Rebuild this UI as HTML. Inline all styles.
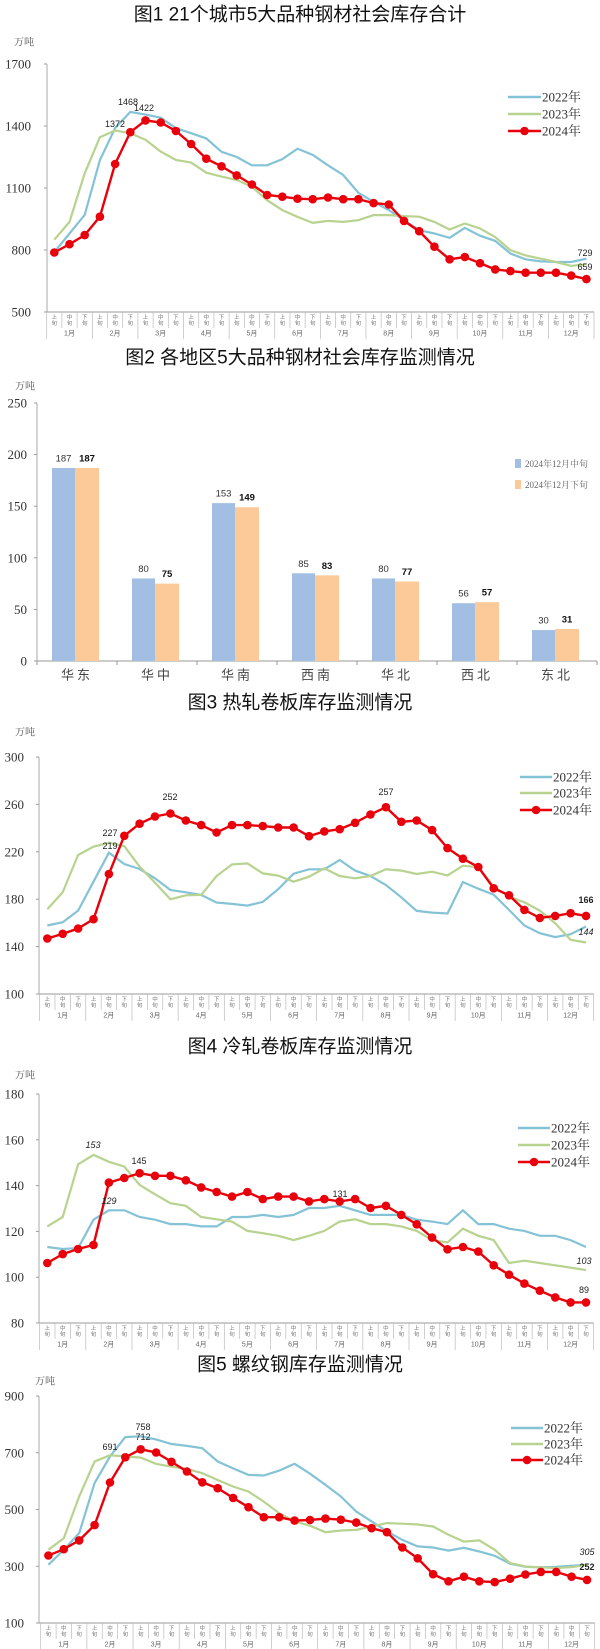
<!DOCTYPE html>
<html><head><meta charset="utf-8"><style>
html,body{margin:0;padding:0;background:#fff;width:600px;height:1649px;overflow:hidden}
svg{display:block}
</style></head><body>
<svg id="s" xmlns="http://www.w3.org/2000/svg" width="600" height="1649" viewBox="0 0 600 1649"></svg>
<script>
const S=document.getElementById('s');let h='';
const CJ='"Liberation Sans","Noto Sans CJK SC",sans-serif';
const SR='"Liberation Serif","Noto Serif CJK SC",serif';
function T(x,y,t,o){o=o||{};h+=`<text x="${x}" y="${y}" font-family='${o.f||CJ}' font-size="${o.s||10}" fill="${o.c||'#222'}" text-anchor="${o.a||'start'}" font-weight="${o.w||'normal'}" font-style="${o.i?'italic':'normal'}" dominant-baseline="central"${o.ls?` letter-spacing="${o.ls}"`:''}>${t}</text>`;}
function L(x1,y1,x2,y2,c,w){h+=`<line x1="${x1}" y1="${y1}" x2="${x2}" y2="${y2}" stroke="${c||'#999'}" stroke-width="${w||1}"/>`;}
const C22='#84c3d6',C23='#b8d28f',C24='#e8000b';
function line(c){
  const n=36,step=(c.x1-c.x0)/35,left=c.x0-step/2;
  T(300,c.ty,c.title,{s:19,a:'middle',c:'#111'});
  T(c.ux,c.uy,'万吨',{s:10,c:'#555',f:SR});
  const Y=v=>c.yt+(c.vmax-v)*(c.yb-c.yt)/(c.vmax-c.vmin);
  c.ticks.forEach(v=>{T(c.lx,Y(v),v,{s:13,a:'end',f:SR,c:'#333'});L(c.ax-3,Y(v),c.ax,Y(v),'#999');});
  L(c.ax,c.yt,c.ax,c.yb,'#aaa');
  const right=left+n*step;L(c.ax,c.yb,right,c.yb,'#999');
  const xn=['上','中','下'];
  for(let i=0;i<=n;i++){const x=left+i*step;L(x,c.yb,x,c.yb+(i%3==0?27:16),'#bbb',0.7);}
  for(let i=0;i<n;i++){const x=c.x0+i*step;T(x,c.yb+6,xn[i%3],{s:5.5,a:'middle',c:'#777'});T(x,c.yb+12,'旬',{s:5.5,a:'middle',c:'#777'});}
  for(let m=0;m<12;m++){T(left+(m*3+1.5)*step,c.yb+22,(m+1)+'月',{s:7,a:'middle',c:'#666'});}
  const P=d=>d.map((v,i)=>`${(c.x0+i*step).toFixed(1)},${Y(v).toFixed(1)}`).join(' ');
  h+=`<polyline points="${P(c.d22)}" fill="none" stroke="${C22}" stroke-width="2.2"/>`;
  h+=`<polyline points="${P(c.d23)}" fill="none" stroke="${C23}" stroke-width="2.2"/>`;
  h+=`<polyline points="${P(c.d24)}" fill="none" stroke="${C24}" stroke-width="2.4"/>`;
  c.d24.forEach((v,i)=>{h+=`<circle cx="${(c.x0+i*step).toFixed(1)}" cy="${Y(v).toFixed(1)}" r="4.3" fill="${C24}"/>`;});
  const lg=c.lg;[[C22,'2022年'],[C23,'2023年'],[C24,'2024年']].forEach((e,k)=>{
    L(lg.x0,lg.y[k],lg.x1,lg.y[k],e[0],k==2?2.4:2.6);
    if(k==2)h+=`<circle cx="${(lg.x0+lg.x1)/2}" cy="${lg.y[k]}" r="4.3" fill="${C24}"/>`;
    T(lg.x1+1,lg.y[k],e[1],{s:13,f:SR,c:'#333'});});
  c.labels.forEach(l=>T(l[0],l[1],l[2],{s:9,a:'middle',c:'#222',i:l[3]=='i',w:l[3]=='b'?'bold':'normal'}));
}
line({title:'图1  21个城市5大品种钢材社会库存合计',ty:15,ux:14,uy:43,lx:31,ax:47,yt:64,yb:312,vmax:1700,vmin:500,ticks:[1700,1400,1100,800,500],x0:54.3,x1:586.4,
d24:[788,828,872,961,1216,1370,1427,1417,1376,1313,1242,1205,1161,1117,1066,1058,1048,1046,1054,1046,1046,1027,1020,941,891,816,755,766,736,706,698,690,690,690,676,659],
d22:[790,880,970,1235,1390,1468,1455,1440,1390,1365,1340,1275,1250,1210,1210,1240,1290,1260,1210,1163,1077,1033,993,944,896,880,859,907,869,844,783,755,745,742,742,758],
d23:[850,936,1171,1346,1378,1365,1333,1276,1236,1223,1174,1155,1139,1106,1041,993,960,931,941,936,944,969,969,964,961,936,899,928,904,863,799,774,758,742,723,731],
lg:{x0:508,x1:541,y:[97,114,131]},
labels:[[128,102,'1468'],[144,108,'1422'],[115,124,'1372'],[585,253,'729'],[585,267,'659']]});
(function(){
  T(300,358,'图2  各地区5大品种钢材社会库存监测情况',{s:19,a:'middle',c:'#111'});
  T(15,387,'万吨',{s:10,c:'#555',f:SR});
  const yt=403,yb=661,Y=v=>yb-v*(yb-yt)/250;
  [250,200,150,100,50,0].forEach(v=>{T(27,Y(v),v,{s:13,a:'end',f:SR,c:'#333'});L(34,Y(v),37,Y(v),'#999');});
  L(37,yt,37,yb,'#aaa');L(37,yb,597,yb,'#999');
  const b=[187,80,153,85,80,56,30],o=[187,75,149,83,77,57,31],nm=['华东','华中','华南','西南','华北','西北','东北'];
  for(let i=0;i<7;i++){const cx=37+i*80;L(cx,yb,cx,yb+4,'#999');
    h+=`<rect x="${cx+15}" y="${Y(b[i])}" width="23" height="${yb-Y(b[i])}" fill="#a2bfe3"/>`;
    h+=`<rect x="${cx+38}" y="${Y(o[i])}" width="24" height="${yb-Y(o[i])}" fill="#fcca98"/>`;
    T(cx+26.5,Y(b[i])-9,b[i],{s:9.5,a:'middle',c:'#333'});
    T(cx+50,Y(o[i])-9,o[i],{s:9.5,a:'middle',c:'#111',w:'bold'});
    T(cx+40,675,nm[i],{s:13,a:'middle',c:'#444',ls:3});}
  L(597,yb,597,yb+4,'#999');
  h+=`<rect x="515" y="459" width="6" height="9" fill="#a2bfe3"/><rect x="515" y="480" width="6" height="9" fill="#fcca98"/>`;
  T(525,464,'2024年12月中旬',{s:9,c:'#666',f:SR});T(525,485,'2024年12月下旬',{s:9,c:'#666',f:SR});
})();
line({title:'图3  热轧卷板库存监测情况',ty:703,ux:15,uy:733,lx:24,ax:39,yt:757,yb:994,vmax:300,vmin:100,ticks:[300,260,220,180,140,100],x0:47.3,x1:586,
d24:[146.8,150.8,155.3,163.1,201.3,233.5,243.7,249.8,252.3,246.4,242.5,236.3,242.5,242.5,241.7,240.5,240.5,233.2,237.2,239.1,244.5,251.5,257.6,245.3,246.4,238.3,223.1,214.2,207.2,189.2,183.3,171,164.2,165.9,168.2,165.9],
d22:[157.8,160.6,170.4,194.8,219.2,209.7,205.5,197.6,187.8,185.8,183.6,177.1,176,174.6,177.7,188.4,201.5,205.2,205.2,213.1,204.1,199.6,192,181.6,170.1,168.7,167.9,194.5,188.9,183.8,171,157.8,151.3,148,150.5,157],
d23:[171.5,185.8,217.3,224.3,227.6,224.8,207.4,194,179.9,183.3,183.6,199.6,209.4,210.2,201.8,199.9,194.8,199,206,199.6,197.6,199.6,205.2,204.1,201.3,203.2,200.1,208.3,206.9,190.6,182.2,177.4,170.4,159.7,145.7,143.5],
lg:{x0:520,x1:552,y:[777,793,810]},
labels:[[170,797,'252'],[386,792,'257'],[110,833,'227'],[110,846,'219'],[586,900,'166','b'],[586,932,'144','i']]});
line({title:'图4  冷轧卷板库存监测情况',ty:1047,ux:15,uy:1076,lx:24,ax:39,yt:1094,yb:1323,vmax:180,vmin:80,ticks:[180,160,140,120,100,80],x0:47.3,x1:586,
d24:[106.2,110.1,112.3,114.1,141.3,143.3,145.4,144.3,144.3,142.3,139.2,137.2,135.2,137.2,134.1,135.2,135.2,133.1,134.1,133.1,134.1,130.2,131.2,127.2,123.1,117.3,112.2,113.2,111.2,105.2,101.1,97.2,94.1,91.2,89,89],
d22:[113.2,112.3,112.7,125.1,129.2,129.2,126.3,125.1,123.2,123.2,122.2,122.2,126.3,126.3,127.2,126.3,127.2,130.2,130.2,131.2,129.2,127.2,127.2,127.2,125.1,124.3,123.2,129.2,123.2,123.2,121.2,120.2,118.1,118.1,116.2,113.2],
d23:[122.2,126.3,149.3,153.4,150.4,148.3,140.3,136.2,132.3,131.2,126.3,125.3,124.3,120.2,119.2,118.1,116.2,118.1,120.2,124.3,125.3,123.2,123.2,122.2,120.2,116.2,115.2,121.2,118.1,116.2,106.2,107.2,106.2,105.2,104.2,103.1],
lg:{x0:518,x1:550,y:[1128,1145,1162]},
labels:[[93,1145,'153','i'],[139,1161,'145'],[109,1201,'129','i'],[340,1194,'131'],[584,1261,'103','i'],[584,1290,'89']]});
line({title:'图5  螺纹钢库存监测情况',ty:1365,ux:35,uy:1382,lx:24,ax:39,yt:1396,yb:1623,vmax:900,vmin:100,ticks:[900,700,500,300,100],x0:48.4,x1:587,
d24:[338,360,391,445,595,684,712,701,668,634,596,575,541,508,473,473,461,463,468,464,454,434,420,366,328,272,247,263,247,244,256,271,280,280,263,252],
d22:[305,358,417,593,687,755,758,747,731,724,716,669,645,622,620,637,661,626,587,546,493,458,423,393,370,366,355,365,352,337,309,298,296,298,302,305],
d23:[358,399,546,669,691,687,683,661,651,643,628,604,581,563,528,487,458,443,420,426,428,440,452,450,447,440,411,387,391,358,311,299,296,294,297,305],
lg:{x0:511,x1:543,y:[1428,1444,1460]},
labels:[[143,1427,'758'],[143,1437,'712'],[110,1447,'691'],[587,1552,'305','i'],[587,1567,'252','b']]});
S.innerHTML=h;
</script>
</body></html>
